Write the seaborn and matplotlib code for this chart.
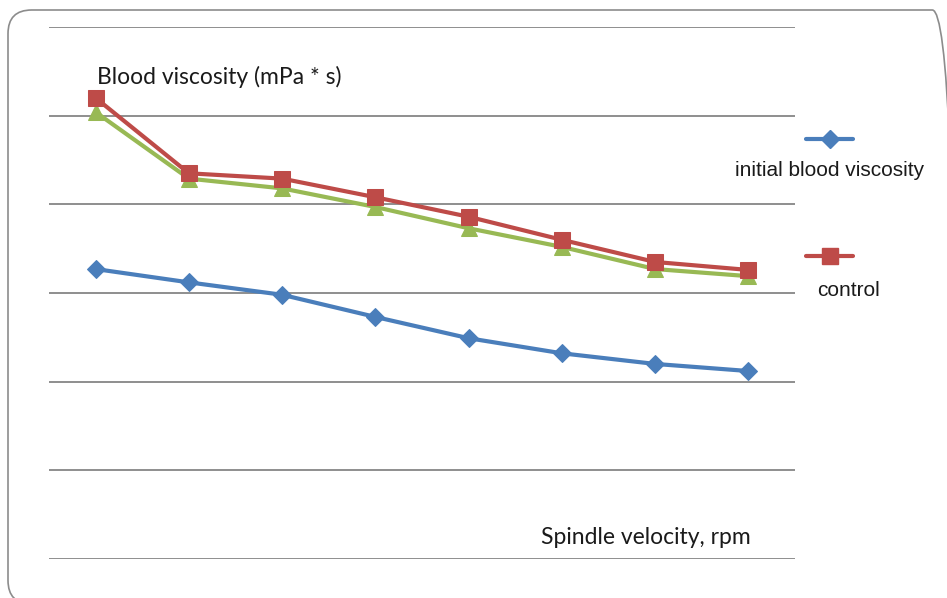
import numpy as np
import pandas as pd
import matplotlib
matplotlib.use("Agg")
import matplotlib.pyplot as plt
import seaborn as sns
from matplotlib.patches import FancyBboxPatch
from matplotlib.lines import Line2D

# Values (no tick labels in the original)
point_index = [1, 2, 3, 4, 5, 6, 7, 8]
initial_viscosity = [3.27, 3.12, 2.98, 2.73, 2.49, 2.32, 2.20, 2.12]
control_viscosity = [5.20, 4.35, 4.29, 4.08, 3.86, 3.60, 3.35, 3.26]
third_viscosity = [5.04, 4.29, 4.18, 3.97, 3.73, 3.52, 3.27, 3.19]
series_names = ["initial blood viscosity", "control", "series 3"]

df = pd.DataFrame({
    "point": point_index * 3,
    "value": initial_viscosity + control_viscosity + third_viscosity,
    "series": [series_names[0]] * 8 + [series_names[1]] * 8 + [series_names[2]] * 8,
})

colors = {"initial blood viscosity": "#4A7EBB", "control": "#BE4B48", "series 3": "#98B954"}
markers = {"initial blood viscosity": "D", "control": "s", "series 3": "^"}
msizes = {"initial blood viscosity": 9, "control": 11, "series 3": 12}

sns.set_style("white")
fig = plt.figure(figsize=(9.47, 5.98), dpi=100)
ax = fig.add_axes([49 / 947, 1 - 559 / 598, (795 - 49) / 947, (559 - 27) / 598])

# draw order: blue, green, red on top
for name in ["initial blood viscosity", "series 3", "control"]:
    sub = df[df["series"] == name]
    sns.lineplot(data=sub, x="point", y="value", ax=ax, color=colors[name],
                 marker=markers[name], markersize=msizes[name], markeredgecolor=colors[name],
                 linewidth=3, legend=False)

ax.set_xlim(0.5, 8.5)
ax.set_ylim(0, 6)
ax.yaxis.grid(True, color="#868686", linewidth=1.3)
ax.set_axisbelow(True)
ax.set_xticks([])
ax.set_yticks(np.arange(0, 7, 1))
ax.tick_params(left=False, labelleft=False, bottom=False)
for s in ax.spines.values():
    s.set_visible(False)
ax.set_xlabel("")
ax.set_ylabel("")

# axis titles inside plot area
fig.text(97 / 947, 1 - 77 / 598, "Blood viscosity (mPa * s)", fontsize=16.5,
         family="Lato", va="center", ha="left", color="#1a1a1a")
fig.text(751 / 947, 1 - 538 / 598, "Spindle velocity, rpm", fontsize=16.5,
         family="Lato", va="center", ha="right", color="#1a1a1a")

# legend: key above label
fig.add_artist(Line2D([806 / 947, 853 / 947], [1 - 139 / 598] * 2, color=colors["initial blood viscosity"],
                      linewidth=3, transform=fig.transFigure))
fig.add_artist(Line2D([829.5 / 947], [1 - 139 / 598], color=colors["initial blood viscosity"],
                      marker="D", markersize=9, transform=fig.transFigure))
fig.text(830 / 947, 1 - 170 / 598, "initial blood viscosity", fontsize=15,
         family="Liberation Sans", ha="center", va="center", color="#1a1a1a")
fig.add_artist(Line2D([806 / 947, 853 / 947], [1 - 256 / 598] * 2, color=colors["control"],
                      linewidth=3, transform=fig.transFigure))
fig.add_artist(Line2D([829.5 / 947], [1 - 256 / 598], color=colors["control"],
                      marker="s", markersize=11, transform=fig.transFigure))
fig.text(848 / 947, 1 - 290 / 598, "control", fontsize=15,
         family="Liberation Sans", ha="center", va="center", color="#1a1a1a")

# rounded chart border (right and bottom edges run off the image)
border = FancyBboxPatch((8 / 947, -6 / 598), 948 / 947, 1 - 4 / 598,
                        boxstyle="round,pad=0,rounding_size=0.025", transform=fig.transFigure,
                        facecolor="none", edgecolor="#8c8c8c", linewidth=1.2,
                        mutation_aspect=947 / 598)
fig.add_artist(border)

fig.savefig("out.png", dpi=100)
